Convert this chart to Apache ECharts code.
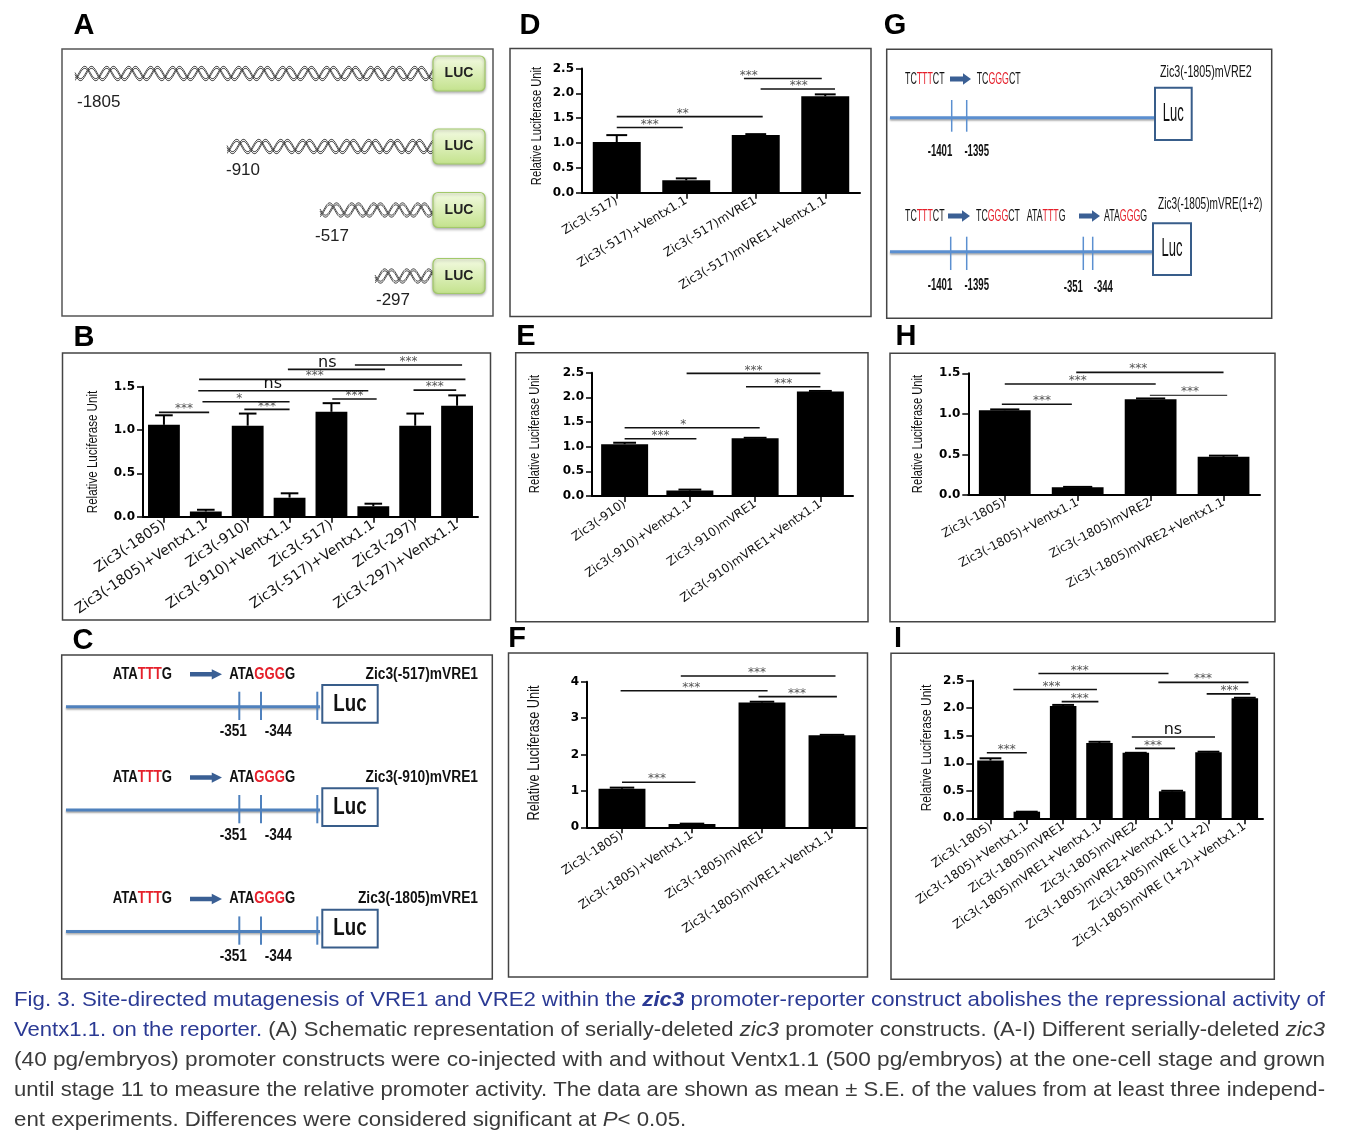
<!DOCTYPE html>
<html><head><meta charset="utf-8">
<script src="https://cdn.jsdelivr.net/npm/echarts@6/dist/echarts.min.js"></script>
<style>html,body{margin:0;padding:0;background:#fff}#c{width:1349px;height:1145px}</style>
</head><body><div id="c"></div>
<script>
// ---------------- DATA ----------------
const bCats = ['Zic3(-1805)','Zic3(-1805)+Ventx1.1','Zic3(-910)','Zic3(-910)+Ventx1.1','Zic3(-517)','Zic3(-517)+Ventx1.1','Zic3(-297)','Zic3(-297)+Ventx1.1'];
const bMean = [1.06,0.06,1.05,0.22,1.21,0.12,1.05,1.28];
const bErr  = [1.17,0.08,1.19,0.27,1.31,0.15,1.19,1.40];
const bSig  = [[-0.12,1.08,1.204,'***'],[1.92,3.0,1.238,'***'],[0.92,3.0,1.327,'*',1.6,1.8],[4.02,5.08,1.358,'***'],[0.82,4.88,1.454,'ns',1.6,2.6],[5.96,6.98,1.46,'***'],[0.84,7.2,1.585,'***',1.6,3.6],[2.96,5.28,1.70,'ns',1.6,3.9],[4.56,7.12,1.75,'***']];

const dCats = ['Zic3(-517)','Zic3(-517)+Ventx1.1','Zic3(-517)mVRE1','Zic3(-517)mVRE1+Ventx1.1'];
const dMean = [1.02,0.25,1.16,1.94];
const dErr  = [1.16,0.29,1.18,1.98];
const dSig  = [[0,0.95,1.313,'***'],[0,2.1,1.533,'**',1.6,0.95],[1.83,2.95,2.3,'***',1.6,1.9],[2.07,3.14,2.087,'***',1.6,2.62]];

const eCats = ['Zic3(-910)','Zic3(-910)+Ventx1.1','Zic3(-910)mVRE1','Zic3(-910)mVRE1+Ventx1.1'];
const eMean = [1.05,0.11,1.17,2.12];
const eErr  = [1.08,0.13,1.18,2.13];
const eSig  = [[0,1.1,1.162,'***'],[0,2.07,1.385,'*',1.6,0.9],[0.95,3.0,2.486,'***'],[1.86,3.0,2.216,'***']];

const fCats = ['Zic3(-1805)','Zic3(-1805)+Ventx1.1','Zic3(-1805)mVRE1','Zic3(-1805)mVRE1+Ventx1.1'];
const fMean = [1.06,0.09,3.43,2.53];
const fErr  = [1.09,0.10,3.45,2.54];
const fSig  = [[0,1.05,1.236,'***',1.6,0.5],[-0.02,2.08,3.75,'***',1.6,0.99],[0.84,3.05,4.155,'***',1.6,1.93],[1.95,3.07,3.59,'***',1.6,2.5]];

const hCats = ['Zic3(-1805)','Zic3(-1805)+Ventx1.1','Zic3(-1805)mVRE2','Zic3(-1805)mVRE2+Ventx1.1'];
const hMean = [1.045,0.095,1.18,0.47];
const hErr  = [1.055,0.10,1.19,0.485];
const hSig  = [[-0.04,0.92,1.118,'***',1.6,0.51],[0,2.07,1.369,'***',1.6,1.0],[0.98,3.0,1.512,'***',1.6,1.83],[1.99,3.05,1.229,'***',1,2.54]];

const iCats = ['Zic3(-1805)','Zic3(-1805)+Ventx1.1','Zic3(-1805)mVRE1','Zic3(-1805)mVRE1+Ventx1.1','Zic3(-1805)mVRE2','Zic3(-1805)mVRE2+Ventx1.1','Zic3(-1805)mVRE (1+2)','Zic3(-1805)mVRE (1+2)+Ventx1.1'];
const iMean = [1.05,0.12,2.04,1.37,1.19,0.49,1.20,2.18];
const iErr  = [1.09,0.12,2.06,1.39,1.19,0.50,1.21,2.19];
const iSig  = [[-0.1,1.0,1.19,'***',1.6,0.45],[0.63,2.93,2.34,'***',1.6,1.68],[1.96,2.97,2.12,'***',1.6,2.46],[1.32,4.9,2.63,'***',1.6,2.46],[3.89,6.18,1.477,'ns',1.6,5.02],[3.98,5.08,1.27,'***',1.6,4.47],[4.62,7.1,2.47,'***',1.6,5.85],[5.95,7.15,2.26,'***',1.6,6.58]];

const yName = 'Relative Luciferase Unit';

// ---------------- PANEL LAYOUT ----------------
const panels = [
  {cats:bCats, mean:bMean, err:bErr, sig:bSig, max:1.5, step:0.5, dec:1, grid:{left:143,top:386.7,width:335,height:130}, rot:34, lsize:14, nx:93, ny:452, nsize:14.5, bw:'76%', cap:0.42},
  {cats:dCats, mean:dMean, err:dErr, sig:dSig, max:2.5, step:0.5, dec:1, grid:{left:582,top:68.5,width:278,height:124.3}, rot:31, lsize:12, nx:537, ny:126, nsize:14, bw:'69%', cap:0.3},
  {cats:eCats, mean:eMean, err:eErr, sig:eSig, max:2.5, step:0.5, dec:1, grid:{left:592,top:372.7,width:261,height:123.3}, rot:35, lsize:12, nx:535, ny:434, nsize:14, bw:'72%', cap:0.35},
  {cats:fCats, mean:fMean, err:fErr, sig:fSig, max:4, step:1, dec:0, grid:{left:587,top:681.7,width:280,height:145.6}, rot:33, lsize:12, nx:535, ny:753, nsize:16, bw:'67%', cap:0.35},
  {cats:hCats, mean:hMean, err:hErr, sig:hSig, max:1.5, step:0.5, dec:1, grid:{left:968.3,top:373.3,width:291.7,height:121.7}, rot:28, lsize:12, nx:918, ny:434, nsize:14, bw:'71%', cap:0.4},
  {cats:iCats, mean:iMean, err:iErr, sig:iSig, max:2.5, step:0.5, dec:1, grid:{left:972.3,top:680.7,width:290.7,height:137.6}, rot:35, lsize:12, nx:927, ny:748, nsize:15, bw:'73%', cap:0.6}
];

function errRender(p){
  return function(params, api){
    const a = api.coord([api.value(0), api.value(1)]);
    const b = api.coord([api.value(0), api.value(2)]);
    const w = api.size([1,0])[0]*p.cap;
    return {type:'group', children:[
      {type:'line', shape:{x1:a[0],y1:a[1],x2:b[0],y2:b[1]}, style:{stroke:'#000',lineWidth:2}},
      {type:'line', shape:{x1:b[0]-w/2,y1:b[1],x2:b[0]+w/2,y2:b[1]}, style:{stroke:'#000',lineWidth:2}}
    ]};
  };
}
function sigRender(p){
  return function(params, api){
    const s = p.sig[params.dataIndex];
    const p0 = api.coord([0, s[2]]), p1 = api.coord([1, s[2]]);
    const step = p1[0]-p0[0];
    const xa = p0[0]+step*s[0], xb = p0[0]+step*s[1], y = p0[1];
    const lx = s[5]!=null ? p0[0]+step*s[5] : (xa+xb)/2;
    const isNs = s[3]==='ns';
    return {type:'group', children:[
      {type:'line', shape:{x1:xa,y1:y,x2:xb,y2:y}, style:{stroke:'#111',lineWidth:s[4]||1.6}},
      {type:'text', style:{text:s[3], x:lx, y: isNs ? y+1 : y+3, align:'center', verticalAlign:'bottom',
        fontFamily:'DejaVu Sans', fontSize: isNs?16:12, fill: isNs?'#111':'#555'}}
    ]};
  };
}

const series = [];
panels.forEach((p,k)=>{
  series.push({type:'bar', xAxisIndex:k, yAxisIndex:k, data:p.mean, barWidth:p.bw, itemStyle:{color:'#000'}, silent:true, z:2});
  series.push({type:'custom', xAxisIndex:k, yAxisIndex:k, data:p.mean.map((m,i)=>[i,m,p.err[i]]), encode:{x:0,y:[1,2]}, renderItem:errRender(p), clip:false, silent:true, z:3});
  series.push({type:'custom', xAxisIndex:k, yAxisIndex:k, data:p.sig.map(s=>[s[0],s[2]]), encode:{x:0,y:1}, renderItem:sigRender(p), clip:false, silent:true, z:4});
});

// ---------------- GRAPHIC (schematics, frames, caption) ----------------
const G = [];
const SANS = "'Liberation Sans',Arial,sans-serif";
function rect(x,y,w,h,stroke,lw,fill,r){G.push({type:'rect',shape:{x:x,y:y,width:w,height:h,r:r||0},style:{stroke:stroke,lineWidth:lw,fill:fill||'transparent'},z:10});}
function ln(x1,y1,x2,y2,stroke,lw,shadow){const st={stroke:stroke,lineWidth:lw};if(shadow){st.shadowBlur=2;st.shadowColor='rgba(0,0,0,0.35)';st.shadowOffsetY=1.5;}G.push({type:'line',shape:{x1:x1,y1:y1,x2:x2,y2:y2},style:st,z:10});}
function txt(x,y,text,o){o=o||{};G.push({type:'text',x:x,y:y,scaleX:o.sx||1,rotation:o.rot||0,z:11,style:{text:text,rich:o.rich,fill:o.fill||'#111',fontFamily:o.fam||SANS,fontSize:o.size||16,fontWeight:o.w||'normal',fontStyle:o.it||'normal',align:o.al||'left',textAlign:o.al||'left',verticalAlign:'middle',textVerticalAlign:'middle'}});}
function arrow(x1,x2,y,h,color){
  const hl = Math.max(8,(x2-x1)*0.32);
  G.push({type:'polygon',shape:{points:[[x1,y-h/2],[x2-hl,y-h/2],[x2-hl,y-h*1.15],[x2,y],[x2-hl,y+h*1.15],[x2-hl,y+h/2],[x1,y+h/2]]},style:{fill:color},z:10});
}

// y-axis titles (condensed)
panels.forEach(p=>txt(p.nx,p.ny,yName,{size:p.nsize,al:'center',sx:0.8,rot:Math.PI/2,fill:'#111'}));

// Panel frames
rect(62,49,431,267,'#555',1.5);
rect(62.5,353,428,267,'#444',1.5);
rect(61.7,655,430.6,324,'#444',1.5);
rect(510,48.5,361,268,'#444',1.5);
rect(515.7,352.7,352.3,269,'#444',1.5);
rect(508.5,653,359,324,'#444',1.5);
rect(886.7,49.3,385,269,'#444',1.5);
rect(890,353.3,385,268.4,'#444',1.5);
rect(891,653.3,383.3,326,'#444',1.5);

// Panel letters
const letters = [['A',84,26],['B',84,338],['C',83,641],['D',530,26],['E',526,337],['F',517,639],['G',895,26],['H',906,337],['I',898,639]];
letters.forEach(l=>txt(l[1],l[2],l[0],{size:29,w:'bold',al:'center',fill:'#000'}));

// Panel A: helices + LUC boxes
function helix(x0,x1,yc){
  const amp=6.2, per=22;
  [0, 0.62*Math.PI].forEach(ph=>{
    [-1,1].forEach(off=>{
      const pts=[];
      for(let x=x0;x<=x1;x+=1){pts.push([x, yc+off+amp*Math.sin(2*Math.PI*(x-x0)/per+ph)]);}
      G.push({type:'polyline',shape:{points:pts},style:{stroke:'#3a3a3a',lineWidth:0.9,fill:null},z:10});
    });
  });
}
const aRows = [[75,73.5,'-1805',77,102],[227,146.5,'-910',226,170],[320,210,'-517',315,236],[375,276,'-297',376,300]];
aRows.forEach(r=>{
  helix(r[0],434,r[1]);
  G.push({type:'rect',shape:{x:433,y:r[1]-17.5,width:52,height:35,r:5},style:{stroke:'#a2c96a',lineWidth:1.2,
    fill:new echarts.graphic.LinearGradient(0,0,0,1,[{offset:0,color:'#f4fbe3'},{offset:1,color:'#c3e28c'}]),
    shadowBlur:3,shadowColor:'rgba(0,0,0,0.3)',shadowOffsetY:1.5},z:12});
  G.push({type:'text',x:459,y:r[1],z:13,style:{text:'LUC',fill:'#222',fontFamily:SANS,fontSize:14,fontWeight:'bold',align:'center',textAlign:'center',verticalAlign:'middle',textVerticalAlign:'middle'}});
  txt(r[3],r[4],r[2],{size:17,fill:'#222'});
});

// Panel C
const RED='#e5202b', LBLUE='#4f81bd', DBLUE='#385d8a', ARW='#3a5f94';
const seqRich = {k:{fill:'#111',fontSize:16,fontWeight:'bold',fontFamily:SANS},r:{fill:RED,fontSize:16,fontWeight:'bold',fontFamily:SANS}};
const cRows = [[0,'Zic3(-517)mVRE1'],[103.3,'Zic3(-910)mVRE1'],[224.7,'Zic3(-1805)mVRE1']];
cRows.forEach(r=>{
  const o=r[0];
  txt(112.7,674.3+o,'{k|ATA}{r|TTT}{k|G}',{rich:seqRich,sx:0.82});
  arrow(190,222,674.3+o,4.5,ARW);
  txt(229.3,674.3+o,'{k|ATA}{r|GGG}{k|G}',{rich:seqRich,sx:0.82});
  txt(478,674.3+o,r[1],{size:16,w:'bold',al:'right',sx:0.86});
  ln(66,706.7+o,320,706.7+o,LBLUE,3,true);
  [239.3,261,317.3].forEach(x=>ln(x,691.7+o,x,720+o,LBLUE,2));
  rect(322.3,685+o,55.4,37.7,DBLUE,2,'#fff');
  txt(350,704+o,'Luc',{size:24,al:'center',sx:0.78,fill:'#111',w:'bold'});
  txt(233.3,732+o,'-351',{size:16,w:'bold',al:'center',sx:0.85});
  txt(278.3,732+o,'-344',{size:16,w:'bold',al:'center',sx:0.85});
});

// Panel G
const gRich = {k:{fill:'#111',fontSize:16,fontFamily:SANS},r:{fill:RED,fontSize:16,fontFamily:SANS}};
txt(905,80,'{k|TC}{r|TTT}{k|CT}',{rich:gRich,sx:0.55});
arrow(950,971,79,5,ARW);
txt(976.7,80,'{k|TC}{r|GGG}{k|CT}',{rich:gRich,sx:0.55});
txt(1160,73,'Zic3(-1805)mVRE2',{size:16,sx:0.67});
ln(890,117.7,1155,117.7,'#5b8fd0',3,true);
[951.7,966.7].forEach(x=>ln(x,100,x,131.7,'#5b8fd0',1.5));
rect(1155,87.7,36.7,52.3,DBLUE,2,'#fff');
txt(1173.3,114,'Luc',{size:25,al:'center',sx:0.52});
txt(940,151.7,'-1401',{size:16,w:'bold',al:'center',sx:0.6});
txt(976.7,151.7,'-1395',{size:16,w:'bold',al:'center',sx:0.6});
txt(905,216.7,'{k|TC}{r|TTT}{k|CT}',{rich:gRich,sx:0.55});
arrow(948,970,216,5,ARW);
txt(976,216.7,'{k|TC}{r|GGG}{k|CT}',{rich:gRich,sx:0.55});
txt(1026.7,216.7,'{k|ATA}{r|TTT}{k|G}',{rich:gRich,sx:0.55});
arrow(1079,1100,216,5,ARW);
txt(1104,216.7,'{k|ATA}{r|GGG}{k|G}',{rich:gRich,sx:0.55});
txt(1158,205,'Zic3(-1805)mVRE(1+2)',{size:16,sx:0.63});
ln(890,251.7,1153,251.7,'#5b8fd0',3,true);
[950.7,966.7,1083.3,1092.7].forEach(x=>ln(x,236.7,x,270,'#5b8fd0',1.5));
rect(1153,223.3,38,51.7,DBLUE,2,'#fff');
txt(1172,249,'Luc',{size:25,al:'center',sx:0.52});
txt(940,286,'-1401',{size:16,w:'bold',al:'center',sx:0.6});
txt(976.7,286,'-1395',{size:16,w:'bold',al:'center',sx:0.6});
txt(1073.3,288,'-351',{size:16,w:'bold',al:'center',sx:0.6});
txt(1103.3,288,'-344',{size:16,w:'bold',al:'center',sx:0.6});

// Caption
const capFam = SANS;
const capSize = 21;
const capLines = [
  [['b','Fig. 3. Site-directed mutagenesis of VRE1 and VRE2 within the '],['bi','zic3'],['b',' promoter-reporter construct abolishes the repressional activity of']],
  [['b','Ventx1.1. on the reporter.'],['n',' (A) Schematic representation of serially-deleted '],['i','zic3'],['n',' promoter constructs. (A-I) Different serially-deleted '],['i','zic3']],
  [['n','(40 pg/embryos) promoter constructs were co-injected with and without Ventx1.1 (500 pg/embryos) at the one-cell stage and grown']],
  [['n','until stage 11 to measure the relative promoter activity. The data are shown as mean \u00b1 S.E. of the values from at least three independ-']],
  [['n','ent experiments. Differences were considered significant at '],['i','P'],['n','< 0.05.']]
];
const CBLUE='#2b3a94', CGRAY='#3a3a3a';
const capRich = {
  b:{fill:CBLUE,fontFamily:capFam,fontSize:capSize},
  bi:{fill:CBLUE,fontFamily:capFam,fontSize:capSize,fontStyle:'italic',fontWeight:'bold'},
  n:{fill:CGRAY,fontFamily:capFam,fontSize:capSize},
  i:{fill:CGRAY,fontFamily:capFam,fontSize:capSize,fontStyle:'italic'}
};
const mctx = document.createElement('canvas').getContext('2d');
function segW(k,t){const it=(k==='i'||k==='bi')?'italic':'normal';const w=(k==='bi')?'bold':'normal';mctx.font=it+' '+w+' '+capSize+'px '+capFam;return mctx.measureText(t).width;}
const capX=14, capW=1311;
const scales=[];
capLines.forEach(segs=>{
  const w = segs.reduce((a,s)=>a+segW(s[0],s[1]),0);
  scales.push(capW/w);
});
const avgSc = (scales[0]+scales[1]+scales[2]+scales[3])/4;
capLines.forEach((segs,li)=>{
  const sx = li<4 ? scales[li] : avgSc;
  txt(capX,1000+30*li,segs.map(s=>'{'+s[0]+'|'+s[1]+'}').join(''),{rich:capRich,sx:sx});
});

// ---------------- OPTION ----------------
const option = {
  animation:false,
  backgroundColor:'#fff',
  grid: panels.map(p=>Object.assign({outerBoundsMode:'none',containLabel:false},p.grid)),
  xAxis: panels.map((p,k)=>({type:'category',gridIndex:k,data:p.cats,
    axisLine:{show:true,lineStyle:{color:'#000',width:2}},
    axisTick:{show:true,alignWithLabel:true,length:6,lineStyle:{color:'#000',width:1.5}},
    axisLabel:{interval:0,rotate:p.rot,fontSize:p.lsize,fontFamily:'DejaVu Sans',color:'#111',margin:7},
    splitLine:{show:false}})),
  yAxis: panels.map((p,k)=>({type:'value',gridIndex:k,min:0,max:p.max,interval:p.step,
    axisLine:{show:true,lineStyle:{color:'#000',width:2}},
    axisTick:{show:true,length:6,lineStyle:{color:'#000',width:1.5}},
    axisLabel:{fontFamily:'DejaVu Sans',fontWeight:'bold',fontSize:12,color:'#000',margin:8,formatter:v=>v.toFixed(p.dec)},
    splitLine:{show:false}})),
  series: series,
  graphic: {elements: G}
};
const chart = echarts.init(document.getElementById('c'), null, {renderer:'canvas',width:1349,height:1145});
chart.setOption(option);
</script></body></html>
